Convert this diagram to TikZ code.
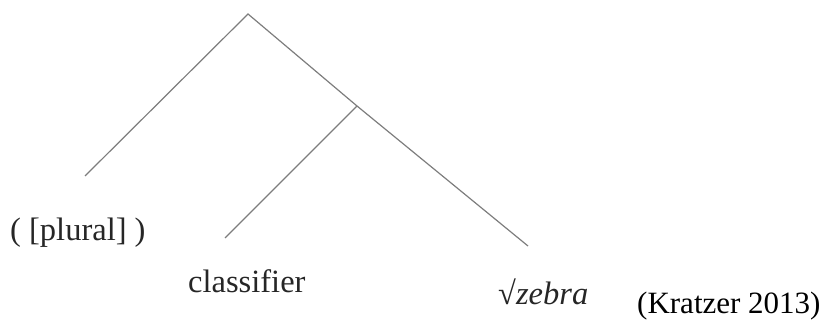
\documentclass[tikz,border=0pt]{standalone}
\usepackage{fontspec}
\setmainfont{Liberation Serif}
\definecolor{treegray}{RGB}{125,125,125}
\begin{document}
\begin{tikzpicture}[x=1pt,y=-1pt,
  branch/.style={draw=treegray,line width=1.2pt},
  lbl/.style={inner sep=0pt,anchor=base west,text=black!85,font=\fontsize{32.5}{36}\selectfont},
  cite/.style={inner sep=0pt,anchor=base west,text=black,font=\fontsize{31}{36}\selectfont}]
\useasboundingbox (0,0) rectangle (827,320);
\coordinate (top) at (248,14);
\coordinate (mid) at (357,106);
\coordinate (leftend) at (85,176);
\coordinate (clend) at (225,238);
\coordinate (rightend) at (528,246);
\draw[branch] (leftend) -- (top) -- (mid) -- (rightend);
\draw[branch] (mid) -- (clend);
\node[lbl] (plural) at (10,241) {( [plural] )};
\node[lbl] (classifier) at (188,292) {classifier};
\node[lbl] (zebra) at (498,305) {√\textit{zebra}};
\node[cite] (kratzer) at (637,313) {(Kratzer 2013)};
\end{tikzpicture}
\end{document}
